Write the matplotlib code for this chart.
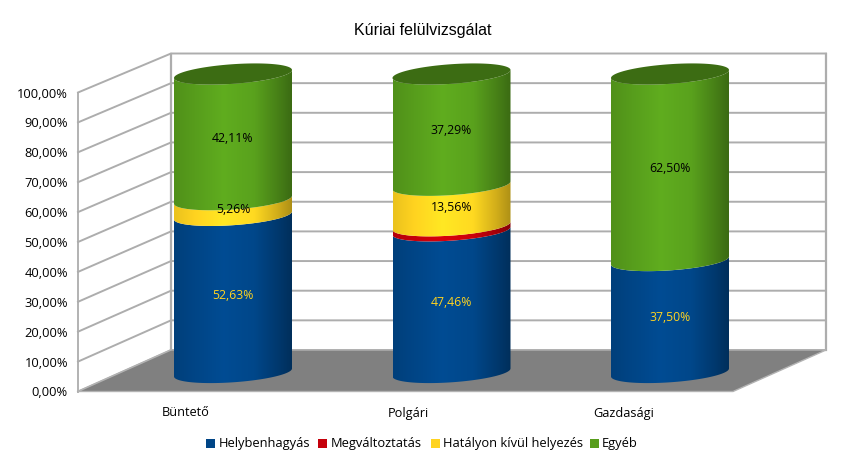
import numpy as np
import matplotlib
matplotlib.use('Agg')
import matplotlib.pyplot as plt
from matplotlib.patches import PathPatch, Polygon, Rectangle
from matplotlib.path import Path
from matplotlib.colors import LinearSegmentedColormap

# Data
categories = ['Büntető', 'Polgári', 'Gazdasági']
series_names = ['Helybenhagyás', 'Megváltoztatás', 'Hatályon kívül helyezés', 'Egyéb']
helyben = [52.63, 47.46, 37.50]
megvalt = [0.0, 1.69, 0.0]
hatalyon = [5.26, 13.56, 0.0]
egyeb = [42.11, 37.29, 62.50]
y_ticks = [0, 10, 20, 30, 40, 50, 60, 70, 80, 90, 100]

colors = ['#004586', '#c5000b', '#ffd320', '#579d1c']
label_colors = ['#ffd320', '#000000', '#000000', '#000000']
series = [helyben, megvalt, hatalyon, egyeb]

# Geometry, in pixels of the picture
W, H = 844, 463
front_x0, front_x1 = 78, 733
back_x0, back_x1 = 171, 826
front_y0, front_y100 = 391.5, 92.5
back_y0, back_y100 = 350, 53.5
cyl_x = [233, 451.5, 670]
cyl_a = 59
cyl_y0 = 372.5
cyl_scale = 2.985
shear = 4.0
cyl_b = 9.8
font = 'Open Sans'

fig = plt.figure(figsize=(W / 100, H / 100), dpi=100)
ax = fig.add_axes([0, 0, 1, 1])
ax.set_xlim(0, W)
ax.set_ylim(H, 0)
ax.axis('off')


def front_y(v):
    return front_y0 + (front_y100 - front_y0) * v / 100


def back_y(v):
    return back_y0 + (back_y100 - back_y0) * v / 100


def cyl_y(v):
    return cyl_y0 - cyl_scale * v


def arc(cx, v, t0, t1, n=60):
    # tilted ellipse of the cylinder at level v
    t = np.linspace(t0, t1, n)
    return cx + cyl_a * np.cos(t), cyl_y(v) - shear * np.cos(t) + cyl_b * np.sin(t)


def shade(base):
    c = np.array(matplotlib.colors.to_rgb(base))
    stops = [(0.0, 0.92), (0.18, 1.0), (0.42, 1.1), (0.68, 1.03), (0.88, 0.82), (1.0, 0.68)]
    return LinearSegmentedColormap.from_list('s', [(p, np.clip(c * f, 0, 1)) for p, f in stops])


# Walls and floor
ax.add_patch(Polygon([(front_x0, front_y0), (front_x1, front_y0), (back_x1, back_y0), (back_x0, back_y0)],
                     closed=True, fc='#808080', ec='#b3b3b3', lw=1, zorder=2))
for v in y_ticks:
    ax.plot([front_x0, back_x0, back_x1], [front_y(v), back_y(v), back_y(v)], color='#adadad', lw=1.4, zorder=1)
ax.plot([front_x0, front_x0], [front_y0, front_y100], color='#adadad', lw=1.3, zorder=1)
ax.plot([back_x0, back_x0], [back_y0, back_y100], color='#adadad', lw=1.6, zorder=1)
ax.plot([back_x1, back_x1], [back_y0, back_y100], color='#adadad', lw=1.6, zorder=1)

# Cylinders
for i, cx in enumerate(cyl_x):
    bottom = 0.0
    for j, vals in enumerate(series):
        v = vals[i]
        if v == 0:
            continue
        top = bottom + v
        xa, ya = arc(cx, bottom, np.pi, 0)
        xb, yb = arc(cx, top, 0, np.pi)
        # lower arc of the bottom level goes left to right, then back along the top level
        verts = np.vstack([np.column_stack([xa, ya]), np.column_stack([xb, yb]), [[xa[0], ya[0]]]])
        path = Path(verts, closed=False)
        patch = PathPatch(path, fc='none', ec='none', transform=ax.transData)
        ax.add_patch(patch)
        im = ax.imshow(np.linspace(0, 1, 256).reshape(1, -1), cmap=shade(colors[j]),
                       extent=[cx - cyl_a, cx + cyl_a, H, 0], aspect='auto', zorder=3 + j, vmin=0, vmax=1)
        im.set_clip_path(patch)
        if j != 1:
            ax.text(cx, cyl_y(bottom + v / 2) + (2.2 if v < 20 else 1.2), f'{v:.2f}%'.replace('.', ','),
                    color=label_colors[j], fontsize=8.8, family=font, ha='center', va='center', zorder=10)
        bottom = top
    xc, yc = arc(cx, bottom, 0, 2 * np.pi, 120)
    ax.add_patch(Polygon(np.column_stack([xc, yc]), closed=True, fc='#3c6c13', ec='none', zorder=8))

ax.set_xlim(0, W)
ax.set_ylim(H, 0)

# Axis texts
for v in y_ticks:
    ax.text(68, front_y(v) + 1.5, f'{v:.2f}%'.replace('.', ','), fontsize=9.25, family=font,
            color='#000000', ha='right', va='center')
for name, x in zip(categories, [186, 408, 624]):
    ax.text(x, 413, name, fontsize=9.2, family=font, color='#000000', ha='center', va='center')

ax.text(423, 30, 'Kúriai felülvizsgálat', fontsize=11.5, family='Liberation Sans', ha='center', va='center')

# Legend
legend_sq = [206, 318, 431, 590]
legend_tx = [218.5, 331, 443, 602]
for name, col, sx, tx in zip(series_names, colors, legend_sq, legend_tx):
    ax.add_patch(Rectangle((sx, 439), 8.5, 8.5, fc=col, ec='none'))
    ax.text(tx, 443.5, name, fontsize=9.3, family=font, ha='left', va='center')

fig.savefig('out.png', dpi=100)
